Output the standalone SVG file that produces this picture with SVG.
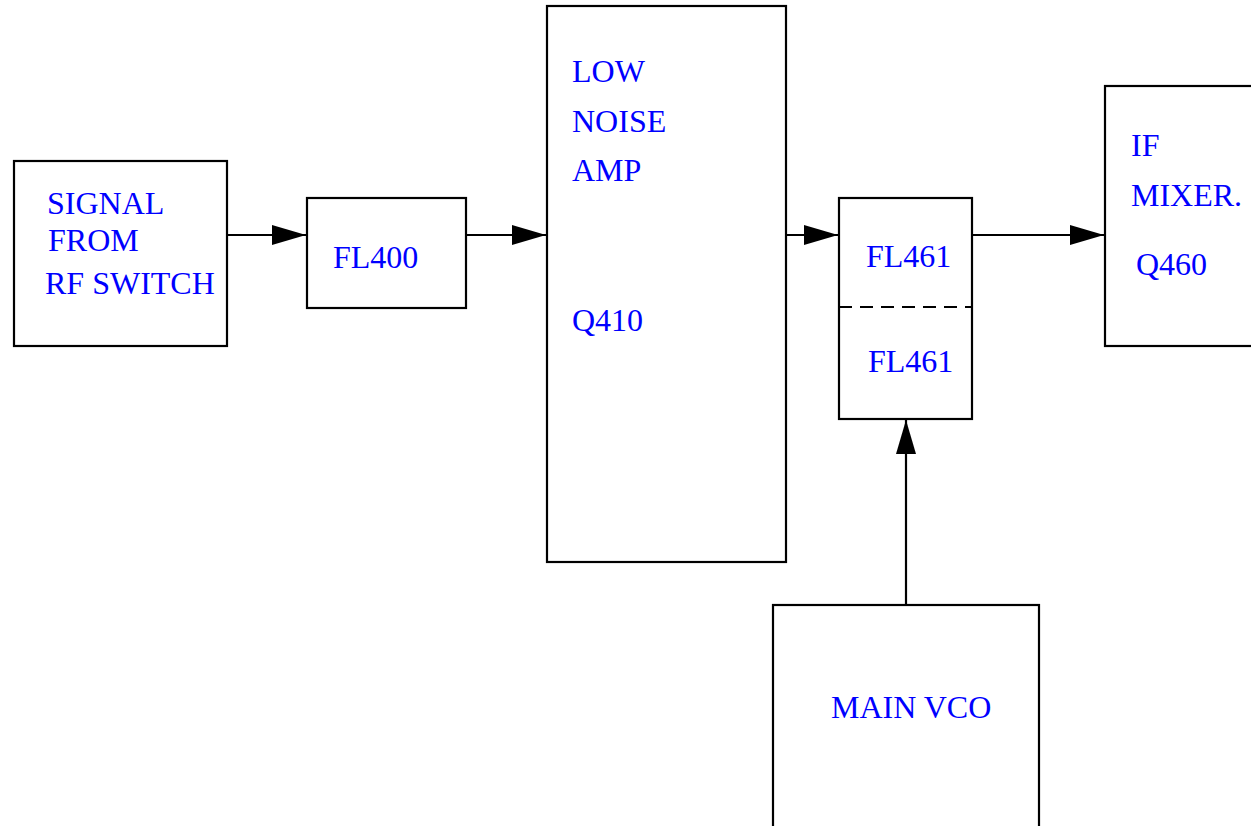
<svg xmlns="http://www.w3.org/2000/svg" width="1251" height="826" viewBox="0 0 1251 826">
<defs>
<style>
.box{fill:#fff;stroke:#000;stroke-width:2.2}
.lbl{font-family:"Liberation Serif","Times New Roman",serif;font-size:32px;fill:#0000ff}
.wire{fill:none;stroke:#000;stroke-width:2.2}
.dash{fill:none;stroke:#000;stroke-width:2.2;stroke-dasharray:13 8}
</style>
<marker id="ah" markerWidth="35" markerHeight="20" refX="34" refY="10" orient="auto" markerUnits="userSpaceOnUse">
<path d="M0,0 L34,10 L0,20 Z" fill="#000"/>
</marker>
</defs>
<rect width="1251" height="826" fill="#fff"/>
<g id="signal">
<rect class="box" x="14" y="161" width="213" height="185"/>
<text class="lbl" x="47" y="214">SIGNAL</text>
<text class="lbl" x="48" y="251">FROM</text>
<text class="lbl" x="45" y="294">RF SWITCH</text>
</g>
<g id="fl400">
<rect class="box" x="307" y="198" width="159" height="110"/>
<text class="lbl" x="333" y="268">FL400</text>
</g>
<g id="lna">
<rect class="box" x="547" y="6" width="239" height="556"/>
<text class="lbl" x="572" y="82">LOW</text>
<text class="lbl" x="572" y="132">NOISE</text>
<text class="lbl" x="572" y="181">AMP</text>
<text class="lbl" x="572" y="331">Q410</text>
</g>
<g id="fl461">
<rect class="box" x="839" y="198" width="133" height="221"/>
<line class="dash" x1="839" y1="307" x2="972" y2="307"/>
<text class="lbl" x="866" y="267">FL461</text>
<text class="lbl" x="868" y="372">FL461</text>
</g>
<g id="ifmixer">
<rect class="box" x="1105" y="86" width="160" height="260"/>
<text class="lbl" x="1131" y="156">IF</text>
<text class="lbl" x="1131" y="206">MIXER.</text>
<text class="lbl" x="1136" y="275">Q460</text>
</g>
<g id="vco">
<rect class="box" x="773" y="605" width="266" height="240"/>
<text class="lbl" x="831" y="718">MAIN VCO</text>
</g>
<g id="connectors">
<line class="wire" x1="227" y1="235" x2="306" y2="235" marker-end="url(#ah)"/>
<line class="wire" x1="466" y1="235" x2="546" y2="235" marker-end="url(#ah)"/>
<line class="wire" x1="786" y1="235" x2="838" y2="235" marker-end="url(#ah)"/>
<line class="wire" x1="972" y1="235" x2="1104" y2="235" marker-end="url(#ah)"/>
<line class="wire" x1="906" y1="605" x2="906" y2="420" marker-end="url(#ah)"/>
</g>
</svg>
